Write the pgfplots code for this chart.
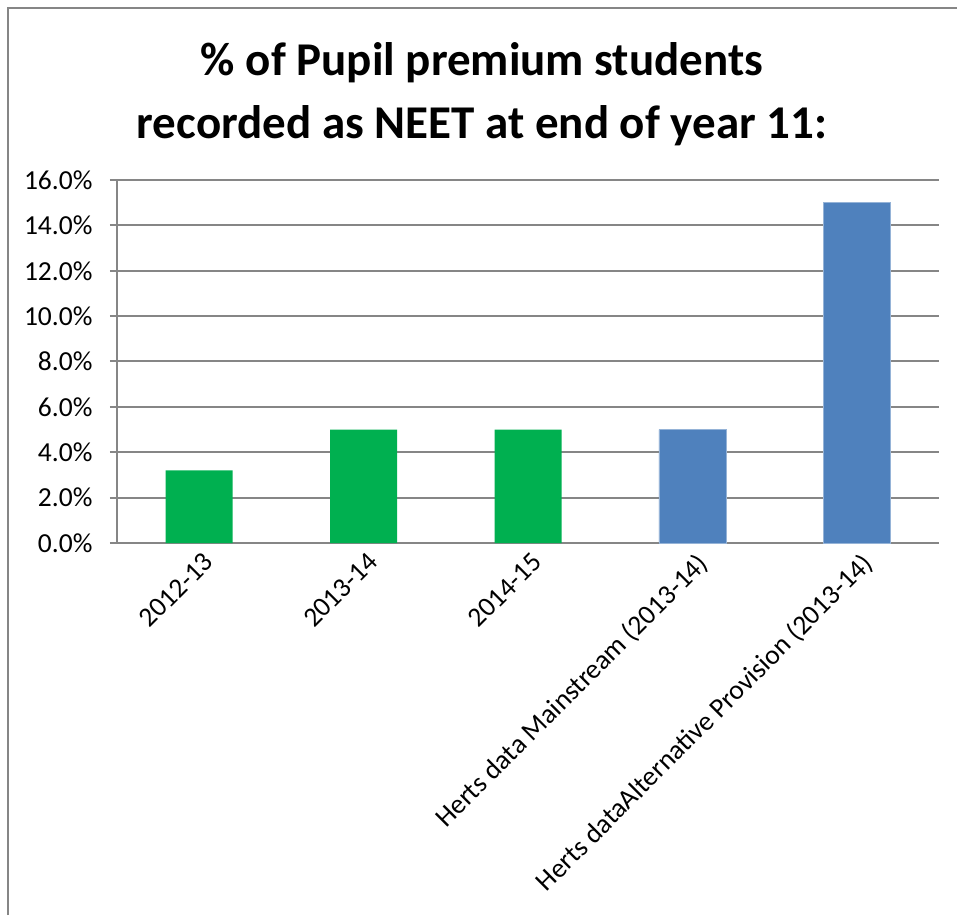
\documentclass[border=0pt]{standalone}
\usepackage{pgfplots}
\pgfplotsset{compat=1.18}
\usepackage{fontspec}
\setmainfont{Carlito}
\definecolor{gridgray}{HTML}{868686}
\definecolor{xlgreen}{HTML}{00B050}
\definecolor{xlblue}{HTML}{4F81BD}
\begin{document}
\begin{tikzpicture}[x=1pt,y=1pt]
\useasboundingbox (0,0) rectangle (957,915);
\draw[gridgray,line width=2.5pt] (8,0) -- (8,907) -- (957,907);
\node[font=\fontsize{47}{63}\selectfont\bfseries,align=center] at (482,821) {\% of Pupil premium students\\recorded as NEET at end of year 11:};
\begin{axis}[
  at={(117pt,372pt)}, anchor=south west,
  width=822pt, height=363pt, scale only axis,
  xmin=-0.5, xmax=4.5, ymin=0, ymax=16,
  axis x line*=bottom, axis y line*=left,
  axis line style={gridgray,line width=2pt},
  ytick={0,2,...,16},
  yticklabel={\pgfmathprintnumber[fixed,fixed zerofill,precision=1]{\tick}\%},
  /pgf/number format/assume math mode=true,
  ymajorgrids, major grid style={gridgray,line width=2pt},
  xtick={0,...,4},
  xticklabels={2012-13,2013-14,2014-15,Herts data Mainstream (2013-14),Herts dataAlternative Provision (2013-14)},
  extra x ticks={-0.5,0.5,1.5,2.5,3.5,4.5},
  extra x tick labels={},
  extra x tick style={major tick length=9pt, tick style={gridgray,line width=2pt}, tick align=outside, xmajorgrids=false},
  major x tick style={draw=none},
  ytick style={gridgray,line width=2pt}, tick align=outside, major tick length=7pt,
  yticklabel style={font=\fontsize{27.5}{30}\selectfont, text=black, xshift=-14pt},
  xticklabel style={font=\fontsize{27.5}{30}\selectfont, text=black, xshift=3pt, yshift=2pt, rotate=45, anchor=north east, inner sep=2pt},
  ybar, bar width=67pt, bar shift=0pt,
  clip=false,
]
\addplot[fill=xlgreen,draw=none] coordinates {(0,3.2) (1,5.0) (2,5.0)};
\addplot[fill=xlblue,draw=xlblue!60!white,line width=0.8pt] coordinates {(3,5.0) (4,15.0)};
\end{axis}
\end{tikzpicture}
\end{document}
